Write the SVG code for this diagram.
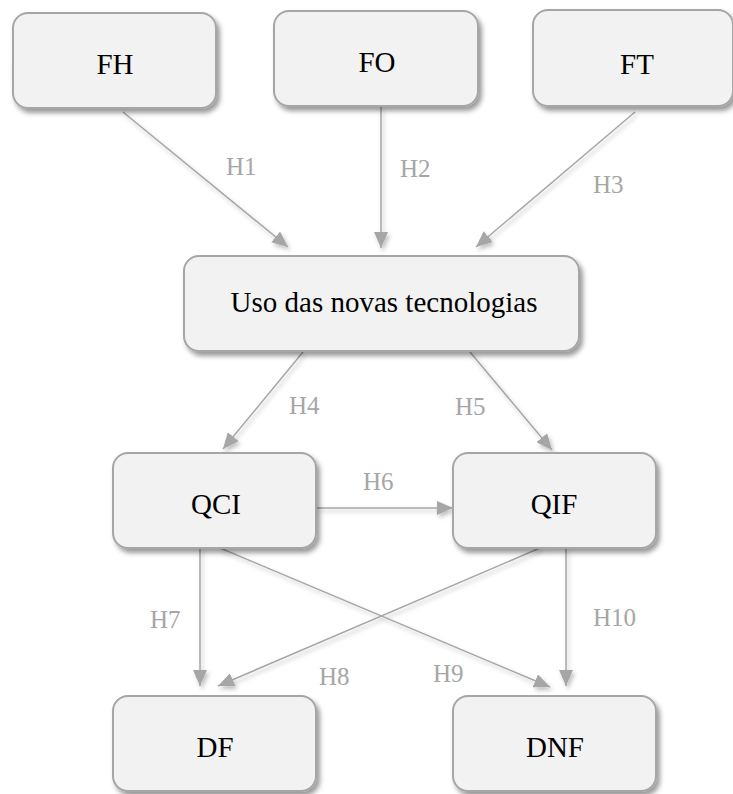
<svg xmlns="http://www.w3.org/2000/svg" width="733" height="794" viewBox="0 0 733 794">
<defs>
<filter id="sh" x="-20%" y="-20%" width="140%" height="150%">
<feDropShadow dx="3" dy="4" stdDeviation="2.5" flood-color="#000" flood-opacity="0.4"/>
</filter>
<filter id="lsh" x="-20%" y="-20%" width="140%" height="140%">
<feDropShadow dx="2" dy="3" stdDeviation="2" flood-color="#000" flood-opacity="0.25"/>
</filter>
<marker id="ah" viewBox="0 0 16 14" refX="16" refY="7" markerWidth="16" markerHeight="14" markerUnits="userSpaceOnUse" orient="auto">
<path d="M0,0 L16,7 L0,14 Z" fill="#a6a6a6"/>
</marker>
<style>
.box{fill:#f2f2f2;stroke:#a6a6a6;stroke-width:2;filter:url(#sh)}
.t{font-family:"Liberation Serif","Times New Roman",serif;font-size:29px;fill:#000;text-anchor:middle}
.c{stroke:#a6a6a6;stroke-width:1.5;fill:none;marker-end:url(#ah)}
.lb{font-family:"Liberation Serif","Times New Roman",serif;font-size:25px;fill:#a6a6a6}
</style>
</defs>
<rect width="733" height="794" fill="#fff"/>
<g id="connectors" filter="url(#lsh)">
<line class="c" x1="123" y1="112" x2="288" y2="247"/>
<line class="c" x1="381" y1="107" x2="381" y2="248"/>
<line class="c" x1="635" y1="112" x2="476" y2="247"/>
<line class="c" x1="303" y1="352" x2="223" y2="449"/>
<line class="c" x1="470" y1="352" x2="552" y2="450"/>
<line class="c" x1="317" y1="508" x2="453" y2="508"/>
<line class="c" x1="200" y1="548" x2="200" y2="686"/>
<line class="c" x1="220" y1="548" x2="550" y2="687"/>
<line class="c" x1="540" y1="548" x2="218" y2="686"/>
<line class="c" x1="566" y1="548" x2="566" y2="686"/>
</g>
<g id="labels">
<text class="lb" x="226" y="175">H1</text>
<text class="lb" x="400" y="177">H2</text>
<text class="lb" x="593" y="193">H3</text>
<text class="lb" x="289" y="414">H4</text>
<text class="lb" x="455" y="415">H5</text>
<text class="lb" x="363" y="490">H6</text>
<text class="lb" x="150" y="628">H7</text>
<text class="lb" x="319" y="685">H8</text>
<text class="lb" x="433" y="682">H9</text>
<text class="lb" x="593" y="626">H10</text>
</g>
<g id="FH"><rect class="box" x="13" y="13" width="203" height="95" rx="15"/><text class="t" x="115" y="74">FH</text></g>
<g id="FO"><rect class="box" x="274" y="11" width="204" height="95" rx="15"/><text class="t" x="377" y="72">FO</text></g>
<g id="FT"><rect class="box" x="533" y="10" width="200" height="96" rx="15"/><text class="t" x="637" y="74">FT</text></g>
<g id="Uso"><rect class="box" x="184" y="256" width="395" height="95" rx="15"/><text class="t" x="384" y="312">Uso das novas tecnologias</text></g>
<g id="QCI"><rect class="box" x="113" y="453" width="203" height="95" rx="15"/><text class="t" x="216" y="514">QCI</text></g>
<g id="QIF"><rect class="box" x="453" y="453" width="203" height="95" rx="15"/><text class="t" x="554" y="514">QIF</text></g>
<g id="DF"><rect class="box" x="113" y="696" width="203" height="95" rx="15"/><text class="t" x="215" y="757">DF</text></g>
<g id="DNF"><rect class="box" x="453" y="696" width="203" height="95" rx="15"/><text class="t" x="555" y="757">DNF</text></g>
</svg>
